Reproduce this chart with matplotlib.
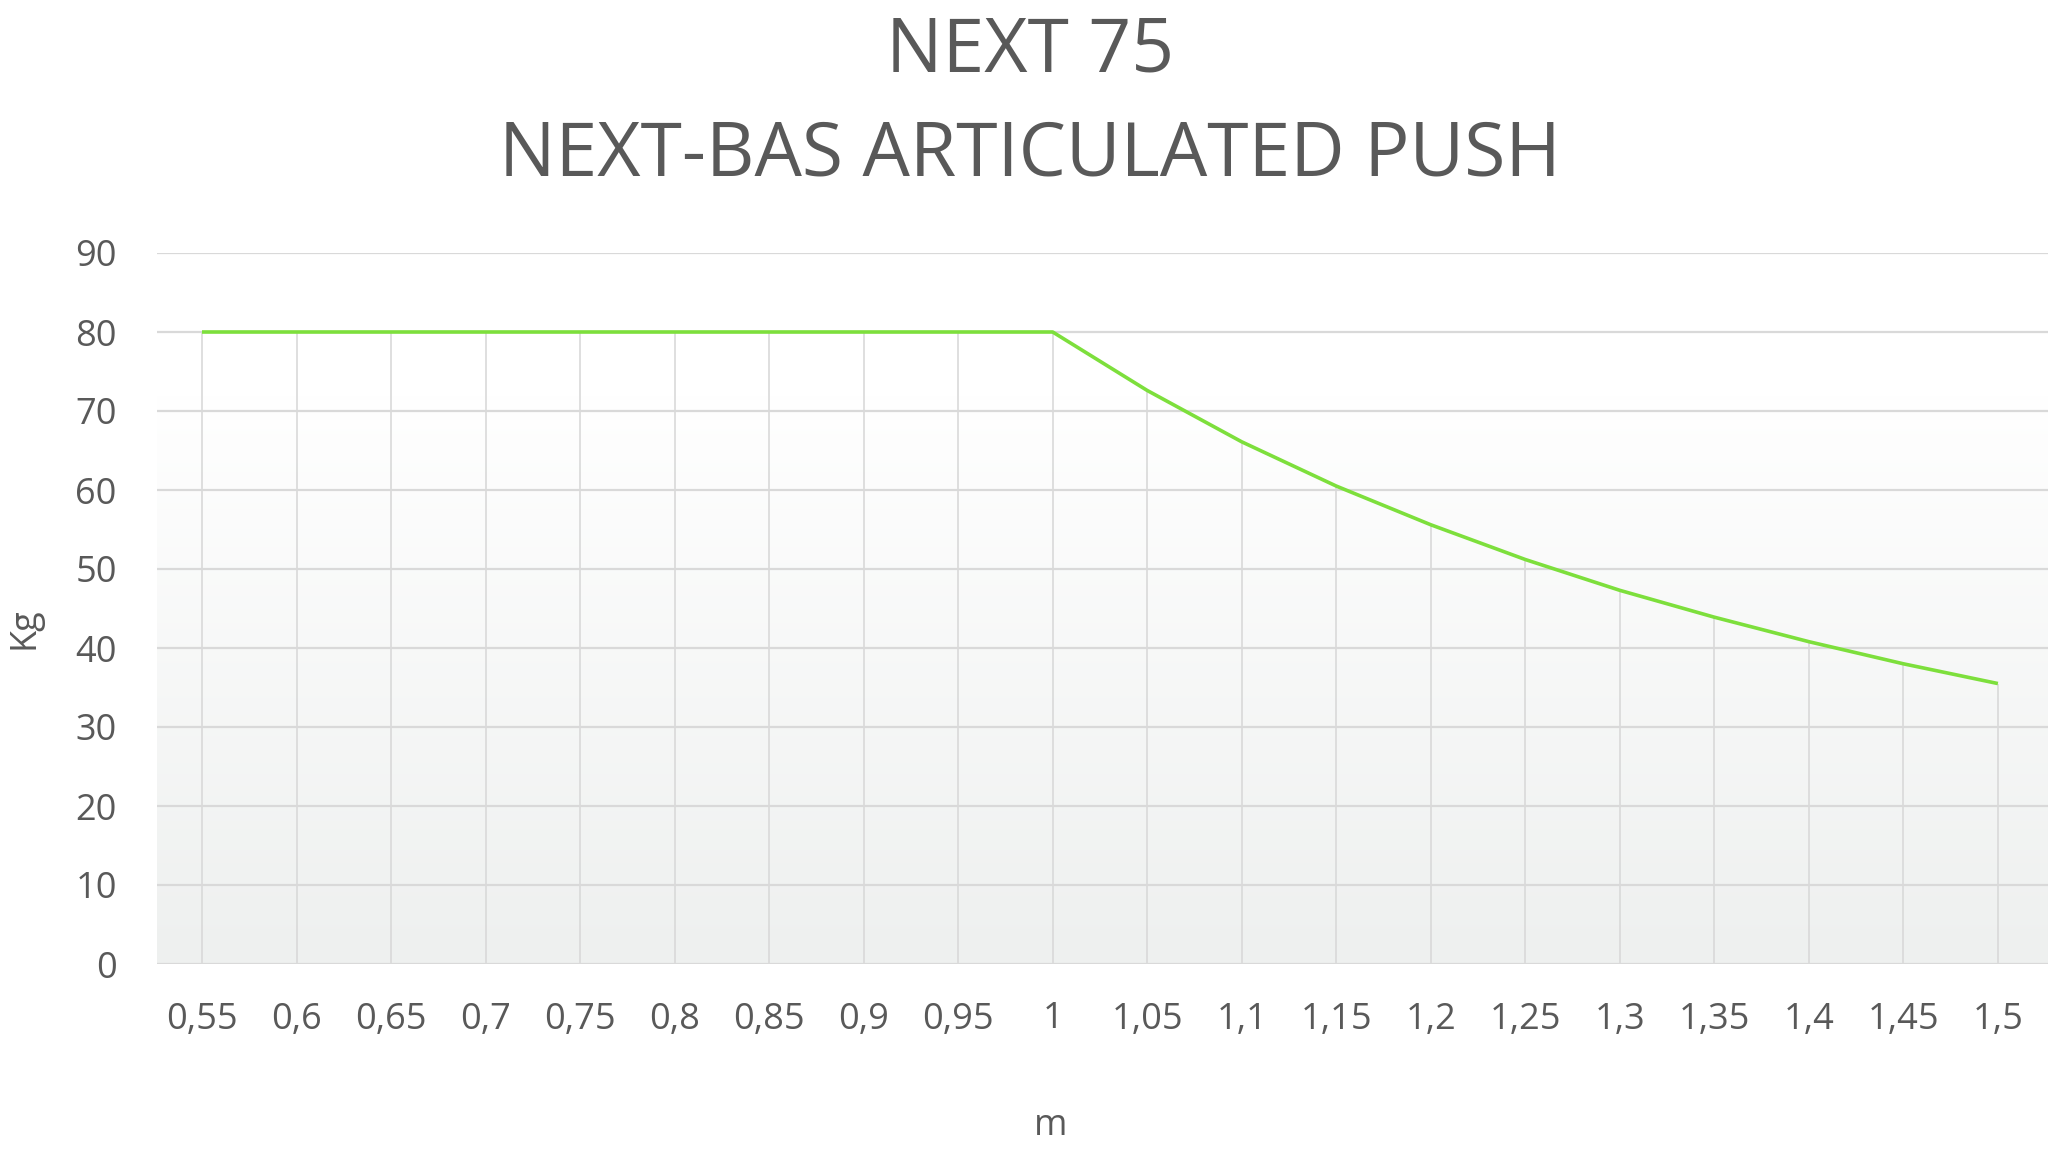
import numpy as np
import matplotlib.pyplot as plt

# distanza (m) e carico (Kg)
distances = [0.55, 0.6, 0.65, 0.7, 0.75, 0.8, 0.85, 0.9, 0.95, 1.0,
             1.05, 1.1, 1.15, 1.2, 1.25, 1.3, 1.35, 1.4, 1.45, 1.5]
loads = [80, 80, 80, 80, 80, 80, 80, 80, 80, 80,
         72.6, 66.1, 60.5, 55.6, 51.2, 47.3, 43.9, 40.8, 38.0, 35.5]
x_labels = ['0,55', '0,6', '0,65', '0,7', '0,75', '0,8', '0,85', '0,9', '0,95', '1',
            '1,05', '1,1', '1,15', '1,2', '1,25', '1,3', '1,35', '1,4', '1,45', '1,5']
y_ticks = [0, 10, 20, 30, 40, 50, 60, 70, 80, 90]

title_lines = ['NEXT 75', 'NEXT-BAS ARTICULATED PUSH']

text_color = '#595959'
grid_color = '#d9d9d9'
line_color = '#7ddf3c'

plt.rcParams['font.family'] = ['Open Sans', 'DejaVu Sans']

fig = plt.figure(figsize=(20.48, 11.55), dpi=100, facecolor='white')
ax = fig.add_axes([157 / 2048, 1 - 964 / 1155, 1 - 157 / 2048, (964 - 253) / 1155])

x_min, x_max = 0.5262, 1.5265
ax.set_xlim(x_min, x_max)
ax.set_ylim(0, 90)

# sfondo sfumato: bianco in alto, grigio chiaro in basso
top_c = np.array([1.0, 1.0, 1.0])
bot_c = np.array([238, 240, 239]) / 255
t = np.linspace(0, 1, 256)[:, None]
t = np.clip(t / 0.8, 0, 1)
grad = bot_c + (top_c - bot_c) * t
grad = np.repeat(grad[:, None, :], 2, axis=1)
ax.imshow(grad, extent=[x_min, x_max, 0, 90], origin='lower', aspect='auto', zorder=0)

# griglia orizzontale
for yv in y_ticks:
    ax.axhline(yv, color=grid_color, lw=1.6, zorder=1)

# linee di caduta verticali
ax.vlines(distances, 0, loads, color=grid_color, lw=1.2, zorder=1)

ax.plot(distances, loads, color=line_color, lw=2.6, zorder=3, solid_capstyle='butt')

for s in ax.spines.values():
    s.set_visible(False)

ax.set_xticks(distances)
ax.set_xticklabels(x_labels)
ax.set_yticks(y_ticks)
ax.tick_params(axis='both', length=0, labelsize=26, colors=text_color)
ax.tick_params(axis='x', pad=27)
ax.tick_params(axis='y', pad=29)

fig.text(25 / 2048, 1 - 628 / 1155, 'Kg', rotation=90, ha='center', va='center',
         fontsize=26, color=text_color)
fig.text(1051 / 2048, 1 - 1126 / 1155, 'm', ha='center', va='center',
         fontsize=26, color=text_color)

fig.text(1030 / 2048, 1 - 72 / 1155, title_lines[0], ha='center', va='baseline',
         fontsize=54, color=text_color)
fig.text(1030 / 2048, 1 - 176 / 1155, title_lines[1], ha='center', va='baseline',
         fontsize=54, color=text_color)

fig.savefig('out.png', dpi=100, facecolor='white')
